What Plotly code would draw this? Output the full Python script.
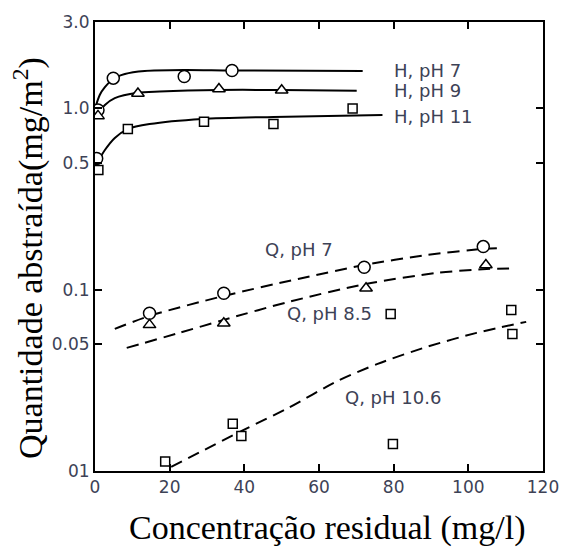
import plotly.graph_objects as go

# ---------------- data ----------------
# H series (solid curves)
h7_x = [0.45, 0.8, 4.9, 23.9, 36.7]
h7_y = [0.53, 0.98, 1.47, 1.50, 1.62]
h9_x = [0.8, 11.5, 33.2, 50.0]
h9_y = [0.91, 1.21, 1.28, 1.26]
h11_x = [0.9, 8.8, 29.2, 47.8, 69.0]
h11_y = [0.458, 0.77, 0.846, 0.82, 1.0]

h7_cx = [0.0, 1.3, 2.65, 4.8, 8.0, 13.3, 23.9, 36.6, 71.7]
h7_cy = [1.0, 1.19, 1.31, 1.455, 1.55, 1.61, 1.63, 1.62, 1.61]
h9_cx = [0.0, 2.65, 5.3, 11.4, 17.3, 33.2, 49.9, 70.1]
h9_cy = [0.886, 1.045, 1.14, 1.22, 1.24, 1.265, 1.265, 1.254]
h11_cx = [0.27, 2.65, 5.3, 8.8, 14.6, 28.7, 47.8, 77.0]
h11_cy = [0.488, 0.59, 0.688, 0.77, 0.82, 0.875, 0.898, 0.921]

# Q series (dashed curves)
q7_x = [14.6, 34.5, 72.1, 104.0]
q7_y = [0.0742, 0.0957, 0.133, 0.173]
q85_x = [14.6, 34.5, 72.6, 104.7]
q85_y = [0.064, 0.0653, 0.102, 0.137]
q106_x = [18.8, 36.9, 39.2, 79.8, 79.2, 111.5, 111.8]
q106_y = [0.01127, 0.0182, 0.0156, 0.0141, 0.0735, 0.0774, 0.057]

q7_cx = [5.3, 14.6, 34.5, 54.4, 72.2, 88.9, 104.1, 109.4]
q7_cy = [0.0608, 0.0717, 0.0924, 0.1147, 0.137, 0.1556, 0.168, 0.170]
q85_cx = [8.5, 22.6, 34.5, 51.8, 72.5, 91.6, 104.9, 112.3]
q85_cy = [0.0478, 0.0578, 0.0682, 0.0856, 0.1076, 0.1238, 0.1302, 0.131]
q106_cx = [20.4, 39.3, 51.8, 65.0, 75.7, 88.9, 102.2, 115.5]
q106_cy = [0.01053, 0.01664, 0.02229, 0.0314, 0.039, 0.0484, 0.0578, 0.0665]

x_ticks = [0, 20, 40, 60, 80, 100, 120]
y_ticks = [0.01, 0.05, 0.1, 0.5, 1.0, 3.0]
y_ticktext = ["01", "0.05", "0.1", "0.5", "1.0", "3.0"]

labels = ["H, pH 7", "H, pH 9", "H, pH 11", "Q, pH 7", "Q, pH 8.5", "Q, pH 10.6"]
label_x = [79.6, 79.6, 79.6, 45.1, 50.9, 66.4]
label_y = [1.63, 1.254, 0.901, 0.1658, 0.0742, 0.0255]

x_title = "Concentração residual (mg/l)"
y_title = "Quantidade abstraída(mg/m<sup>2</sup>)"

# ---------------- figure ----------------
TXT = "#3d4256"
fig = go.Figure()

curves = [
    (h7_cx, h7_cy, "solid"), (h9_cx, h9_cy, "solid"), (h11_cx, h11_cy, "solid"),
    (q7_cx, q7_cy, "12px,7px"), (q85_cx, q85_cy, "12px,7px"), (q106_cx, q106_cy, "12px,7px"),
]
for cx, cy, dash in curves:
    fig.add_trace(go.Scatter(x=cx, y=cy, mode="lines",
                             line=dict(color="black", width=2, dash=dash, shape="spline", smoothing=0.8),
                             hoverinfo="skip"))

markers = [
    (h7_x, h7_y, "circle-open", 12), (h9_x, h9_y, "triangle-up-open", 11), (h11_x, h11_y, "square-open", 9),
    (q7_x, q7_y, "circle-open", 12), (q85_x, q85_y, "triangle-up-open", 11), (q106_x, q106_y, "square-open", 9),
]
for mx, my, sym, sz in markers:
    fig.add_trace(go.Scatter(x=mx, y=my, mode="markers",
                             marker=dict(symbol=sym.replace("-open", ""), size=sz, color="white",
                                         line=dict(color="black", width=1.5))))

import math
for t, lx, ly in zip(labels, label_x, label_y):
    fig.add_annotation(x=lx, y=math.log10(ly), text=t, showarrow=False,
                       xanchor="left", yanchor="middle",
                       font=dict(family="DejaVu Sans", size=18, color=TXT))

fig.add_annotation(x=0.52, y=-0.126, xref="paper", yref="paper", text=x_title,
                   showarrow=False, xanchor="center", yanchor="middle",
                   font=dict(family="Liberation Serif", size=34, color="black"))
fig.add_annotation(x=-0.150, y=0.474, xref="paper", yref="paper", text=y_title,
                   showarrow=False, xanchor="center", yanchor="middle", textangle=-90,
                   font=dict(family="Liberation Serif", size=34, color="black"))

fig.update_xaxes(range=[0, 120], tickvals=x_ticks, ticks="inside", ticklen=7, tickwidth=1.5,
                 tickcolor="black", showline=True, linecolor="black", linewidth=2, mirror="ticks",
                 showgrid=False, zeroline=False,
                 tickfont=dict(family="DejaVu Sans", size=17, color=TXT))
fig.update_yaxes(type="log", range=[-2, math.log10(3.0)], tickvals=y_ticks, ticktext=y_ticktext,
                 ticks="inside", ticklen=7, tickwidth=1.5, tickcolor="black",
                 showline=True, linecolor="black", linewidth=2, mirror="ticks",
                 showgrid=False, zeroline=False,
                 tickfont=dict(family="DejaVu Sans", size=17, color=TXT))

fig.update_layout(width=571, height=550, margin=dict(l=95, r=24, t=22, b=79),
                  showlegend=False, paper_bgcolor="white", plot_bgcolor="white")

fig.write_html("out.html")
